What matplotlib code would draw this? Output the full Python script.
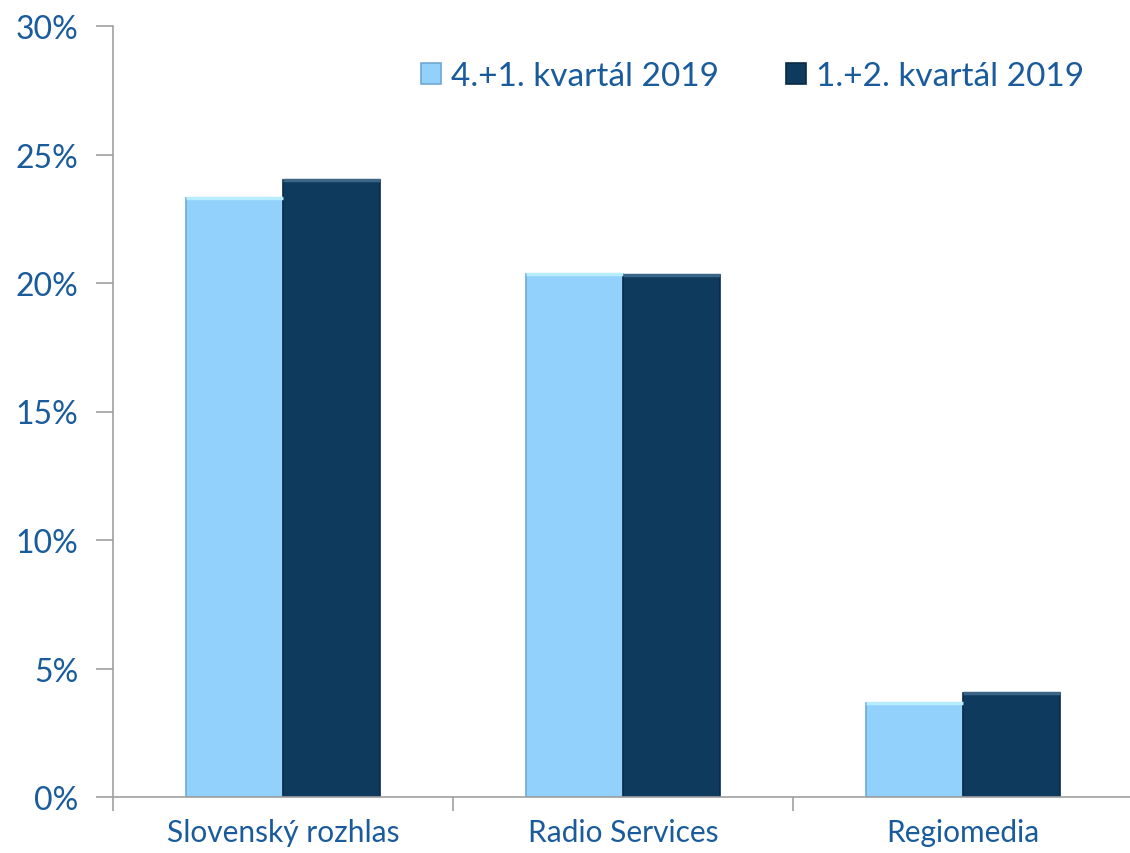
import numpy as np
import matplotlib.pyplot as plt

# data
categories = ['Slovenský rozhlas', 'Radio Services', 'Regiomedia']
series_names = ['4.+1. kvartál 2019', '1.+2. kvartál 2019']
q41 = [23.3, 20.35, 3.65]
q12 = [24.0, 20.3, 4.05]

light = '#92D1FC'
dark = '#0E3A5D'
txt = '#1A5B9C'

plt.rcParams['font.family'] = ['Lato', 'DejaVu Sans']

fig = plt.figure(figsize=(11.3, 8.54), dpi=100)
ax = fig.add_axes([113 / 1130, 1 - 798 / 854, 1020 / 1130, 771 / 854])

x = np.arange(len(categories))
w = 0.285
b1 = ax.bar(x - w / 2, q41, w, color=light, edgecolor='#6FA9D6', linewidth=1.2, label=series_names[0])
b2 = ax.bar(x + w / 2, q12, w, color=dark, edgecolor='#0A2B45', linewidth=1.2, label=series_names[1])

# top highlight to hint the bevel look
for bars, hl in [(b1, '#B8ECFF'), (b2, '#3C6688')]:
    for r in bars:
        ax.plot([r.get_x(), r.get_x() + r.get_width()], [r.get_height(), r.get_height()],
                color=hl, lw=2.5, solid_capstyle='butt')

ax.set_xlim(-0.5, 2.5)
ax.set_ylim(0, 30)
ax.set_yticks(np.arange(0, 31, 5))
ax.set_yticklabels([f'{v}%' for v in range(0, 31, 5)])
ax.set_xticks(x)
ax.set_xticklabels(categories)
ax.set_xticks([-0.5, 0.5, 1.5, 2.5], minor=True)
ax.tick_params(axis='x', which='major', length=0, pad=15, labelsize=21.5, labelcolor=txt)
ax.tick_params(axis='x', which='minor', length=10, color='#A0A0A0', width=1.2)
ax.tick_params(axis='y', length=12, color='#A0A0A0', width=1.2, labelsize=23, labelcolor=txt, pad=13)

for s in ['top', 'right']:
    ax.spines[s].set_visible(False)
for s in ['left', 'bottom']:
    ax.spines[s].set_color('#A0A0A0')
    ax.spines[s].set_linewidth(1.2)

leg = ax.legend(ncol=2, frameon=False, loc='center right', bbox_to_anchor=(0.965, 0.935),
                fontsize=24, handlelength=0.6, handleheight=0.6, handletextpad=0.3,
                columnspacing=2.0, labelcolor=txt, borderaxespad=0)

fig.savefig('out.png', dpi=100)
